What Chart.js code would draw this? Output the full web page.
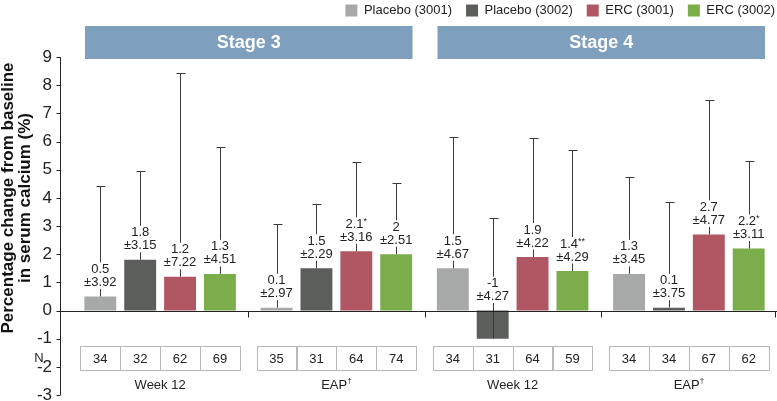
<!DOCTYPE html>
<html>
<head>
<meta charset="utf-8">
<script src="https://cdn.jsdelivr.net/npm/chart.js@4"></script>
<style>
  html, body { margin: 0; padding: 0; background: #fff; }
</style>
</head>
<body>
<canvas id="myChart" width="777" height="401"></canvas>
<script>
const FONT = '"Liberation Sans", Arial, Helvetica, sans-serif';

const categories = ["Week 12", "EAP†", "Week 12", "EAP†"];
const stages = ["Stage 3", "Stage 4"];
const seriesNames = ["Placebo (3001)", "Placebo (3002)", "ERC (3001)", "ERC (3002)"];

const placebo3001Mean = [0.5, 0.1, 1.5, 1.3];
const placebo3001SD = [3.92, 2.97, 4.67, 3.45];
const placebo3001N = [34, 35, 34, 34];

const placebo3002Mean = [1.8, 1.5, -1, 0.1];
const placebo3002SD = [3.15, 2.29, 4.27, 3.75];
const placebo3002N = [32, 31, 31, 34];

const erc3001Mean = [1.2, 2.1, 1.9, 2.7];
const erc3001SD = [7.22, 3.16, 4.22, 4.77];
const erc3001N = [62, 64, 64, 67];
const erc3001Stars = ["", "*", "", ""];

const erc3002Mean = [1.3, 2, 1.4, 2.2];
const erc3002SD = [4.51, 2.51, 4.29, 3.11];
const erc3002N = [69, 74, 59, 62];
const erc3002Stars = ["", "", "**", "*"];

const noStars = ["", "", "", ""];
const yMin = -3, yMax = 9;

const colors = ["#a7a9a8", "#5c5e5c", "#b15663", "#7bae4b"];

const means = [placebo3001Mean, placebo3002Mean, erc3001Mean, erc3002Mean];
const sds = [placebo3001SD, placebo3002SD, erc3001SD, erc3002SD];
const ns = [placebo3001N, placebo3002N, erc3001N, erc3002N];
const stars = [noStars, noStars, erc3001Stars, erc3002Stars];

Chart.defaults.font.family = FONT;
Chart.defaults.color = "#222";

// whiskers, value labels, axes, stage headers, N table
const extras = {
    id: "extras",
    beforeInit(chart) {
        const fit = chart.legend.fit;
        chart.legend.fit = function () {
            fit.bind(chart.legend)();
            this.height = 67;
        };
    },
    afterLayout(chart) {
        // push the legend row to the right edge
        chart.legend.right = chart.width + 12;
    },
    afterDatasetsDraw(chart) {
        const ctx = chart.ctx;
        const y = chart.scales.y;
        const area = chart.chartArea;
        ctx.save();

        // whiskers
        ctx.strokeStyle = "#3a3a3a";
        ctx.lineWidth = 1;
        means.forEach((m, d) => {
            const meta = chart.getDatasetMeta(d);
            m.forEach((v, i) => {
                const x = Math.round(meta.data[i].x) + 0.5;
                const y0 = y.getPixelForValue(v);
                const y1 = Math.round(y.getPixelForValue(v + sds[d][i])) + 0.5;
                ctx.beginPath();
                ctx.moveTo(x, y0);
                ctx.lineTo(x, y1);
                ctx.moveTo(x - 4, y1);
                ctx.lineTo(x + 5, y1);
                ctx.stroke();
            });
        });

        // labels
        ctx.textBaseline = "middle";
        means.forEach((m, d) => {
            const meta = chart.getDatasetMeta(d);
            m.forEach((v, i) => {
                const x = meta.data[i].x;
                const anchor = y.getPixelForValue(Math.max(v, 0));
                const l2 = anchor - 14;
                const l1 = anchor - 27;
                const top = String(v);
                const bottom = "±" + sds[d][i].toFixed(2);
                const star = stars[d][i];
                ctx.font = "13px " + FONT;
                const wTop = ctx.measureText(top).width;
                const wBottom = ctx.measureText(bottom).width;
                ctx.font = "9px " + FONT;
                const wStar = star ? ctx.measureText(star).width : 0;
                const w = Math.max(wTop + wStar, wBottom);
                ctx.fillStyle = "#fff";
                ctx.fillRect(x - w / 2 - 1, l1 - 7, w + 2, l2 - l1 + 13.5);
                ctx.fillStyle = "#222";
                ctx.textAlign = "left";
                ctx.font = "13px " + FONT;
                ctx.fillText(top, x - (wTop + wStar) / 2, l1);
                if (star) {
                    ctx.font = "9px " + FONT;
                    ctx.fillText(star, x - (wTop + wStar) / 2 + wTop, l1 - 3);
                }
                ctx.font = "13px " + FONT;
                ctx.textAlign = "center";
                ctx.fillText(bottom, x, l2);
            });
        });

        // axes
        const axisX = area.left - 11.5;
        const zero = Math.round(y.getPixelForValue(0)) + 0.5;
        ctx.strokeStyle = "#222";
        ctx.beginPath();
        ctx.moveTo(axisX, y.getPixelForValue(yMax));
        ctx.lineTo(axisX, y.getPixelForValue(yMin));
        for (let t = yMin; t <= yMax; t++) {
            const ty = Math.round(y.getPixelForValue(t)) + 0.5;
            ctx.moveTo(axisX - 4, ty);
            ctx.lineTo(axisX, ty);
        }
        ctx.moveTo(axisX, zero);
        ctx.lineTo(area.right, zero);
        const xs = chart.scales.x;
        const catW = xs.width / categories.length;
        for (let i = 1; i <= categories.length; i++) {
            const bx = Math.min(Math.round(xs.left + catW * i) + 0.5, area.right - 1.5);
            ctx.moveTo(bx, zero);
            ctx.lineTo(bx, zero + 6);
        }
        ctx.stroke();
        ctx.restore();
    },
    afterDraw(chart) {
        const ctx = chart.ctx;
        const xs = chart.scales.x;
        const catW = xs.width / categories.length;
        ctx.save();

        // stage headers
        stages.forEach((s, k) => {
            const left = xs.left + catW * 2 * k + 13;
            const right = xs.left + catW * 2 * (k + 1) - 12;
            ctx.fillStyle = "#7f9fbf";
            ctx.fillRect(left, 26, right - left, 33);
            ctx.fillStyle = "#fff";
            ctx.font = "bold 18px " + FONT;
            ctx.textAlign = "center";
            ctx.textBaseline = "middle";
            ctx.fillText(s, (left + right) / 2, 43);
        });

        // N table
        ctx.font = "13px " + FONT;
        ctx.fillStyle = "#222";
        ctx.fillText("N", 39, 358);
        ns.forEach((row, d) => {
            const meta = chart.getDatasetMeta(d);
            row.forEach((n, i) => {
                const x = meta.data[i].x;
                ctx.strokeStyle = "#b8b8b8";
                ctx.strokeRect(Math.round(x - 20) + 0.5, 346.5, 40, 24);
                ctx.fillStyle = "#222";
                ctx.fillText(String(n), x, 359);
            });
        });

        // category labels
        categories.forEach((c, i) => {
            const x = xs.getPixelForValue(i);
            const dagger = c.endsWith("†");
            const main = dagger ? c.slice(0, -1) : c;
            ctx.font = "13px " + FONT;
            const w = ctx.measureText(main).width;
            ctx.font = "8px " + FONT;
            const wd = dagger ? ctx.measureText("†").width : 0;
            ctx.textAlign = "left";
            ctx.font = "13px " + FONT;
            ctx.fillText(main, x - (w + wd) / 2, 385);
            if (dagger) {
                ctx.font = "8px " + FONT;
                ctx.fillText("†", x - (w + wd) / 2 + w, 381);
            }
        });

        // y title
        ctx.translate(16, 198);
        ctx.rotate(-Math.PI / 2);
        ctx.font = "bold 17px " + FONT;
        ctx.textAlign = "center";
        ctx.fillStyle = "#111";
        ctx.fillText("Percentage change from baseline", 0, -8);
        ctx.fillText("in serum calcium (%)", 0, 9);
        ctx.restore();
    }
};

const chart = new Chart(document.getElementById("myChart"), {
    type: "bar",
    data: {
        labels: categories,
        datasets: seriesNames.map((name, d) => ({
            label: name,
            data: means[d],
            backgroundColor: colors[d],
            borderWidth: 0,
            barPercentage: 0.8,
            categoryPercentage: 0.905
        }))
    },
    options: {
        responsive: false,
        animation: false,
        layout: { padding: { top: -10, bottom: 6, left: 0, right: 0 } },
        scales: {
            x: { display: false },
            y: {
                min: yMin,
                max: yMax,
                afterFit(scale) {
                    scale.width = 72;
                    scale.paddingTop = 0;
                    scale.paddingBottom = 0;
                },
                grid: { display: false, drawTicks: false },
                border: { display: false },
                ticks: { stepSize: 1, padding: 20, color: "#222", font: { size: 17 } }
            }
        },
        plugins: {
            legend: {
                position: "top",
                align: "end",
                labels: { boxWidth: 12, boxHeight: 12, padding: 14, color: "#222", font: { size: 13 } }
            },
            tooltip: { enabled: false }
        }
    },
    plugins: [extras]
});
</script>
</body>
</html>
